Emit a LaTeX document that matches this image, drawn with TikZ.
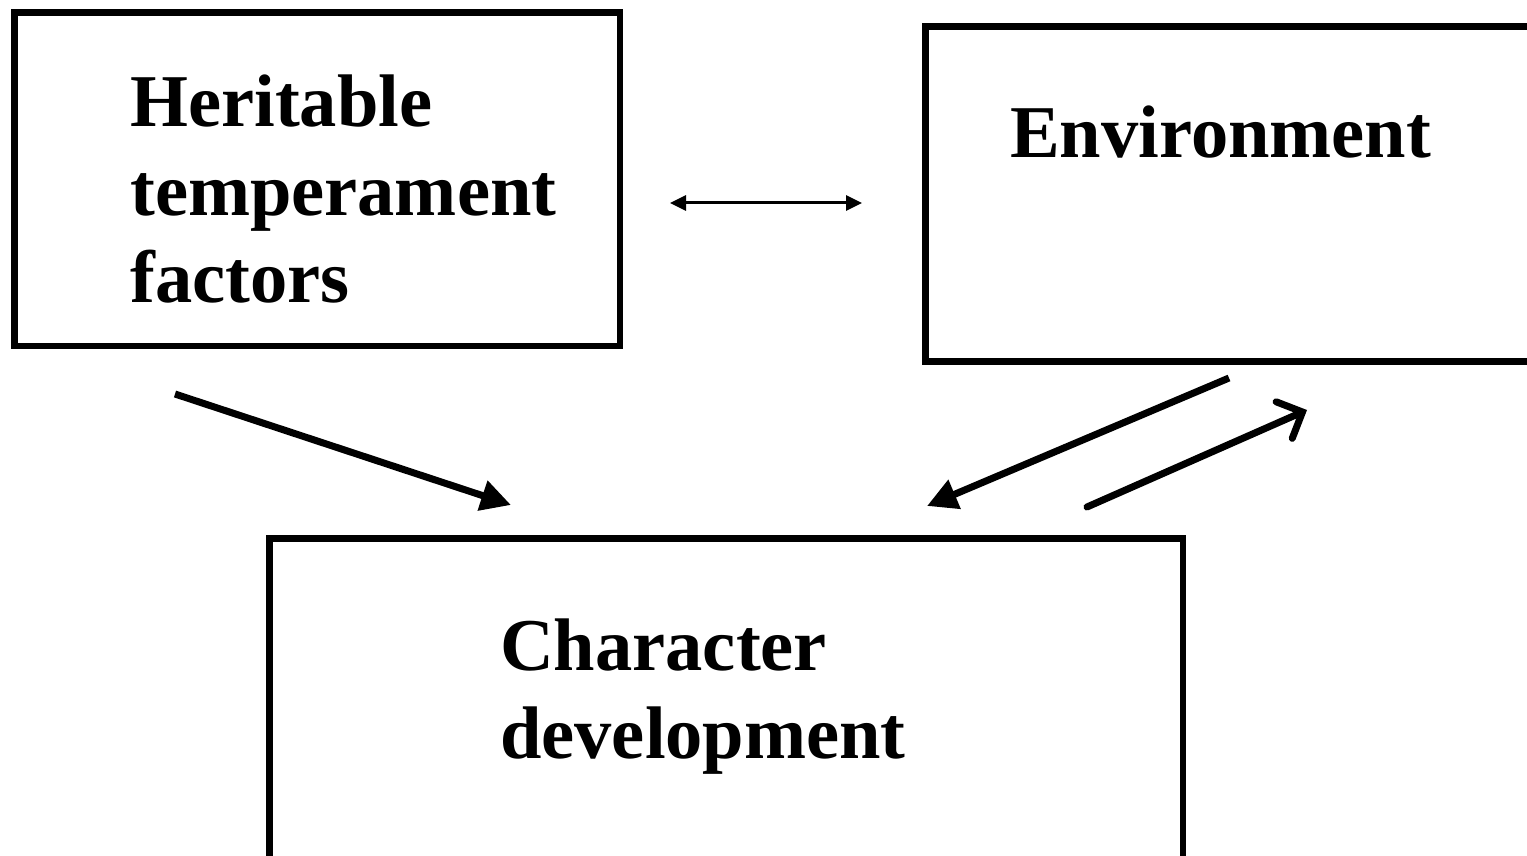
\documentclass[tikz,border=0pt]{standalone}
\usepackage{fontspec}
\setmainfont{Liberation Serif}
\usetikzlibrary{arrows.meta}

\begin{document}
\begin{tikzpicture}[x=1pt,y=-1pt,
  box/.style={draw,line width=6.5pt,inner sep=0pt,outer sep=0pt,anchor=north west},
  label/.style={font=\fontsize{74.5}{88}\selectfont\bfseries,anchor=base west,inner sep=0pt},
  flow/.style={line width=7pt,-{Triangle[length=30pt,width=30pt]}}]

\useasboundingbox (0,0) rectangle (1527,856);
\clip (0,0) rectangle (1527,856);

\node[box,minimum width=605.5pt,minimum height=333.5pt] (heritable) at (14.5,12.5) {};
\node[box,minimum width=700pt,minimum height=335pt] (environment) at (925.5,26.5) {};
\node[box,minimum width=913.5pt,minimum height=400pt] (character) at (269.5,538.5) {};

\node[label] (herittext) at (130,127) {Heritable};
\node[label] (temptext) at (130,215) {temperament};
\node[label] (factext) at (130,302) {factors};
\node[label] (envtext) at (1010,158) {Environment};
\node[label] (chartext) at (500,670) {Character};
\node[label] (devtext) at (500,758) {development};

% connectors
\coordinate (a1) at (670,203);
\coordinate (a2) at (862,203);
\coordinate (b1) at (175,394);
\coordinate (b2) at (511,505);
\coordinate (c1) at (1229,378);
\coordinate (c2) at (927,506);
\coordinate (d1) at (1087,507);
\coordinate (d2) at (1307,410);

\draw[line width=3pt,{Triangle[length=16pt,width=15pt]}-{Triangle[length=16pt,width=15pt]}] (a1)--(a2);
\draw[flow] (b1)--(b2);
\draw[flow] (c1)--(c2);
\draw[line width=7pt,line cap=round,-{Straight Barb[length=20pt,width=40pt,line cap=round]}] (d1)--(d2);

\end{tikzpicture}
\end{document}
